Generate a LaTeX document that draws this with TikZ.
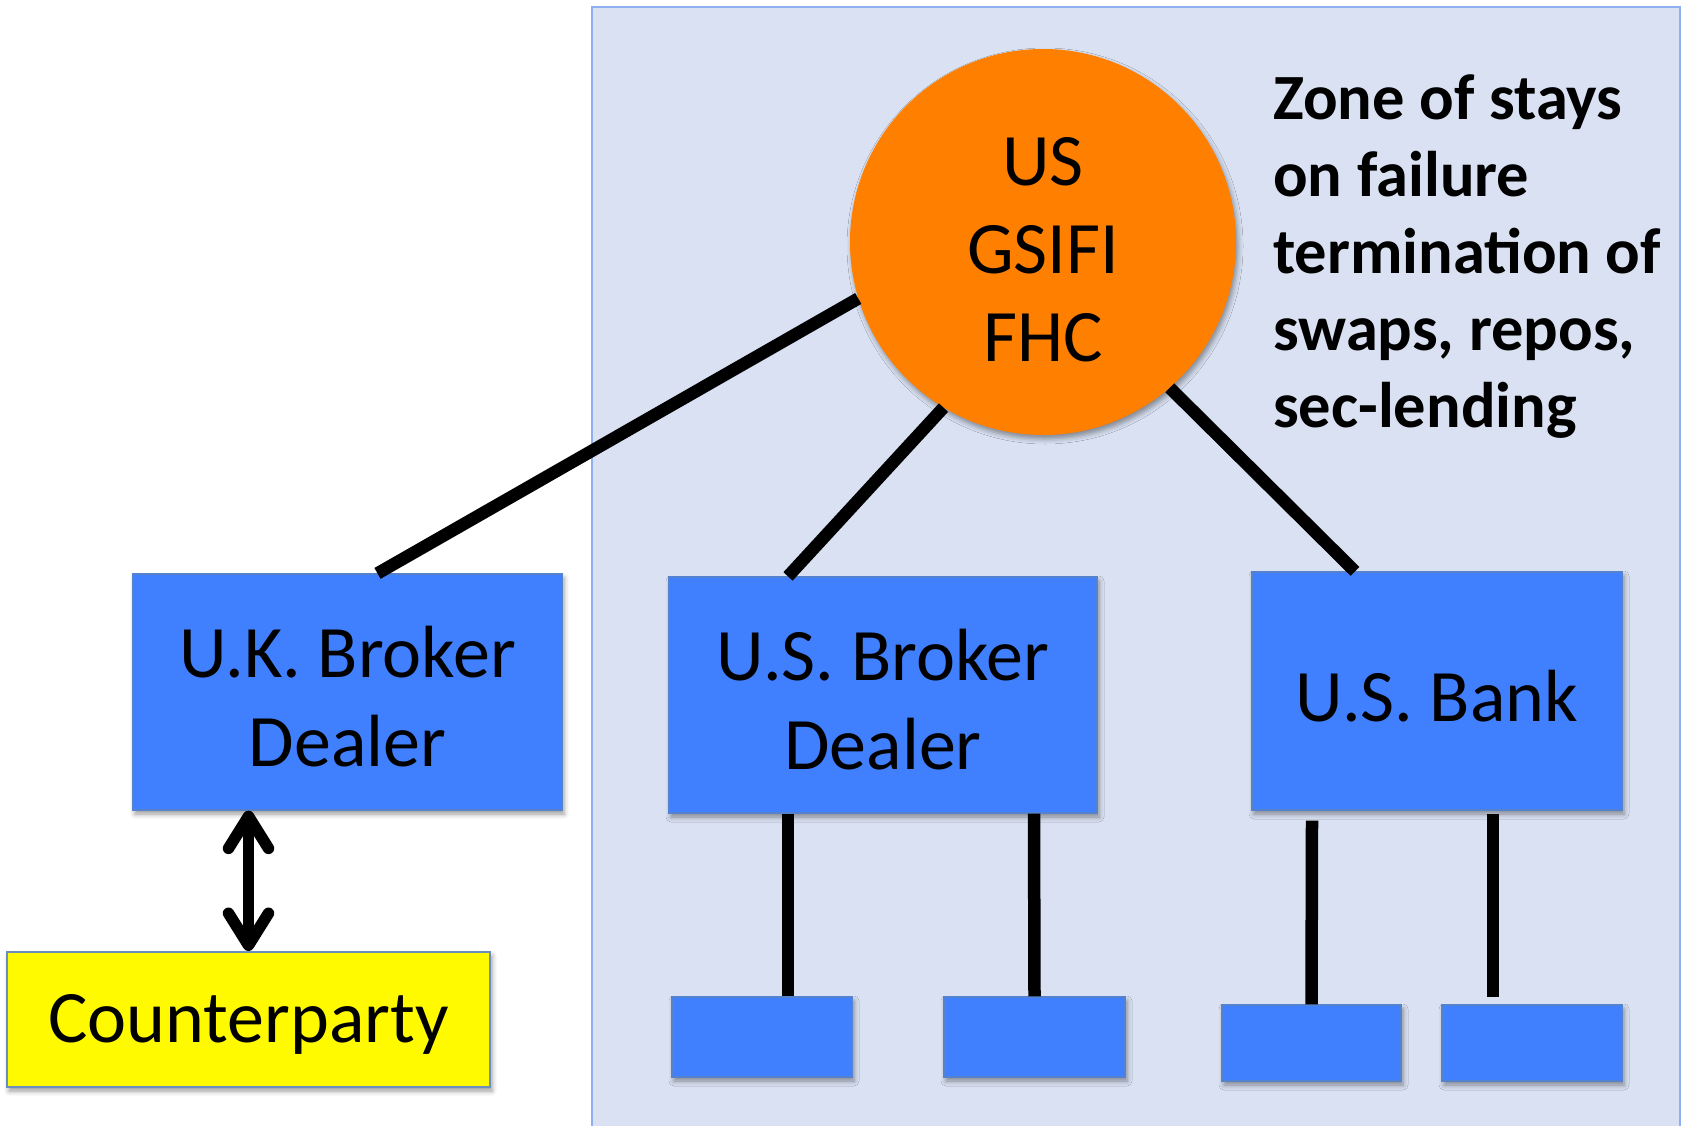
\documentclass[tikz,border=0pt]{standalone}
\usepackage{fontspec}
\setmainfont{Carlito}
\usetikzlibrary{arrows.meta,calc,shadows.blur}

\definecolor{zonefill}{RGB}{217,225,242}
\definecolor{zoneedge}{RGB}{142,176,240}
\definecolor{entblue}{RGB}{64,128,255}
\definecolor{entedge}{RGB}{84,130,205}
\definecolor{hcorange}{RGB}{255,127,0}
\definecolor{cpyellow}{RGB}{255,250,0}
\definecolor{cpedge}{RGB}{108,142,191}

\begin{document}
\begin{tikzpicture}[x=1pt,y=-1pt,
  softshadow/.style={blur shadow={shadow xshift=2pt,shadow yshift=-4pt,
      shadow blur radius=5pt,shadow opacity=40}},
  entity/.style={rectangle,draw=entedge,line width=1.2pt,fill=entblue,
      inner sep=0pt,softshadow},
  % captions sit a little below the geometric centre of their shape
  captionfont/.style={inner sep=0pt,font=\fontsize{74}{89}\selectfont},
  link/.style={line width=12.5pt,black},
  dbl/.style={line width=11.5pt,black,
      {Straight Barb[length=32pt,width=40pt,round]}-{Straight Barb[length=32pt,width=40pt,round]}},
]
\clip (0,0) rectangle (1685,1126);

% shaded zone of stays
\draw[draw=zoneedge,fill=zonefill,line width=2pt] (592,7) rectangle (1680,1140);

% holding company
\node[circle,fill=hcorange,minimum size=386pt,inner sep=0pt,softshadow,
      label={[captionfont,align=center,yshift=-8pt,
      font=\fontsize{74}{88}\selectfont]center:{US\\GSIFI\\FHC}}] (fhc) at (1043,242) {};

% zone label
\node[anchor=north west,inner sep=0pt,align=left,
      font=\fontsize{64.5}{77}\selectfont\bfseries] (zonelabel) at (1273,74)
      {Zone of stays\\on failure\\termination of\\swaps, repos,\\sec-lending};

% subsidiaries
\node[entity,minimum width=429pt,minimum height=236pt,
      label={[captionfont,align=center,yshift=-5pt]center:{U.K. Broker\\Dealer}}]
      (uk) at (347.5,692) {};
\node[entity,minimum width=428pt,minimum height=236pt,
      label={[captionfont,align=center,yshift=-5pt]center:{U.S. Broker\\Dealer}}]
      (usbd) at (883,695) {};
\node[entity,minimum width=370pt,minimum height=238pt,
      label={[captionfont,yshift=-5pt]center:{U.S. Bank}}]
      (bank) at (1437,691) {};

% counterparty
\node[rectangle,draw=cpedge,line width=2pt,fill=cpyellow,inner sep=0pt,
      softshadow,minimum width=483pt,minimum height=135pt,
      label={[captionfont,yshift=-5pt]center:{Counterparty}}]
      (cp) at (248.5,1019.5) {};

% lower-tier entities
\node[entity,minimum width=180pt,minimum height=80pt] (s1) at (762,1037) {};
\node[entity,minimum width=181pt,minimum height=80pt] (s2) at (1034.5,1037) {};
\node[entity,minimum width=179pt,minimum height=76pt] (s3) at (1311.5,1043) {};
\node[entity,minimum width=180pt,minimum height=76pt] (s4) at (1532,1043) {};

% ownership links
\draw[link] (fhc.197.7) -- ($(uk.north)+(30,0)$);
\draw[link] (fhc.239.3) -- ($(usbd.north)+(-95,0)$);
\draw[link] (fhc.311.2) -- ($(bank.north)+(-82,0)$);

\draw[link] ($(usbd.south)+(-95,0)$) -- ($(s1.north)+(26,0)$);
\draw[link] ($(usbd.south)+(151,0)$) -- (s2.north);
\draw[link] ($(bank.south)+(-125,10)$) -- (s3.north);
\draw[link] ($(bank.south)+(56,3)$) -- ($(s4.north)+(-39,-7)$);

% exposure between the U.K. dealer and its counterparty
\draw[dbl] (cp.north) -- (cp.north |- uk.south);
\end{tikzpicture}
\end{document}
